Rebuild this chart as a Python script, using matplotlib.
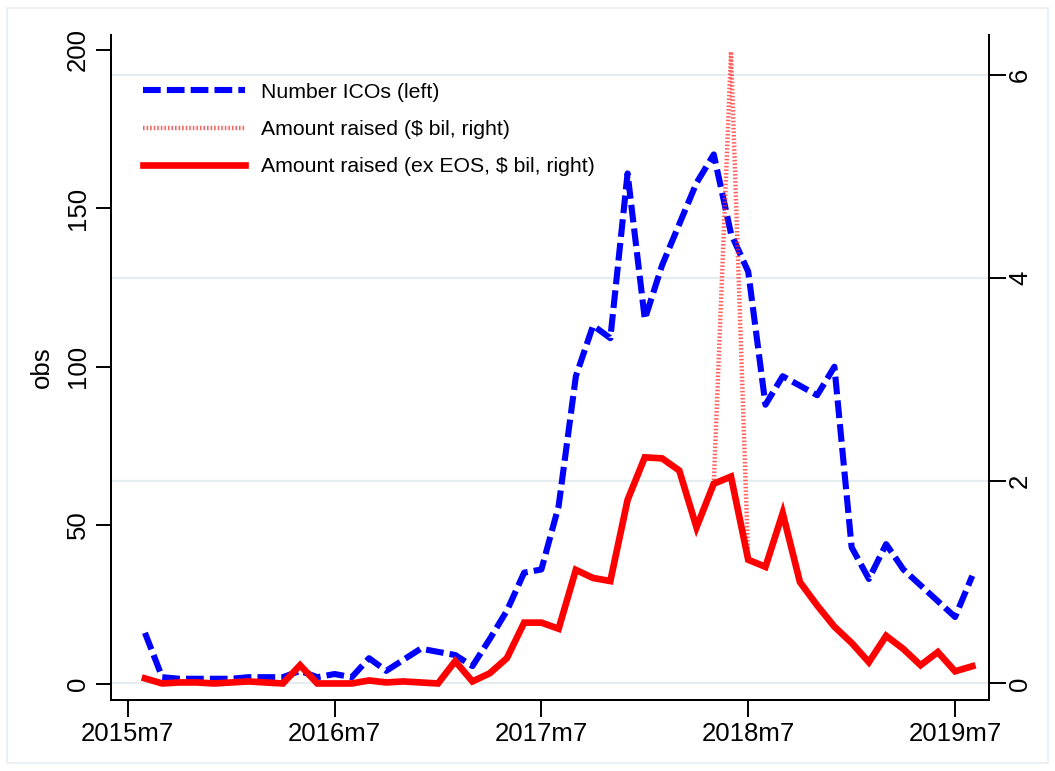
import numpy as np
import matplotlib
matplotlib.use('Agg')
import matplotlib.pyplot as plt
from matplotlib.lines import Line2D
from matplotlib.patches import Rectangle
from matplotlib.transforms import blended_transform_factory

plt.rcParams['font.family'] = ['Liberation Sans', 'DejaVu Sans']

# months since 2015m7 (1 = 2015m8 ... 49 = 2019m8)
months = np.arange(1, 50)
tick_pos = [0, 12, 24, 36, 48]
tick_lab = ['2015m7', '2016m7', '2017m7', '2018m7', '2019m7']

num_icos = [16, 2, 1.5, 1.5, 1.5, 1.5, 2, 2, 2, 4,
            2, 3, 2, 8, 4, 7.5, 11, 10, 9, 5.5,
            14, 23, 35, 36, 56, 97, 113, 109, 161, 115,
            132, 145, 158, 167, 142, 130, 88, 97, 94, 91,
            100, 43, 33, 44, 36, 31, 26, 21, 34]

amount_total = [0.05, 0.0, 0.01, 0.01, 0.0, 0.01, 0.02, 0.01, 0.0, 0.18,
                0.0, 0.0, 0.0, 0.03, 0.01, 0.02, 0.01, 0.0, 0.22, 0.02,
                0.10, 0.25, 0.60, 0.60, 0.54, 1.12, 1.04, 1.01, 1.81, 2.23,
                2.22, 2.10, 1.54, 1.97, 6.23, 1.22, 1.15, 1.68, 1.00, 0.77,
                0.56, 0.40, 0.21, 0.47, 0.34, 0.18, 0.31, 0.12, 0.17]

amount_ex_eos = [0.05, 0.0, 0.01, 0.01, 0.0, 0.01, 0.02, 0.01, 0.0, 0.18,
                 0.0, 0.0, 0.0, 0.03, 0.01, 0.02, 0.01, 0.0, 0.22, 0.02,
                 0.10, 0.25, 0.60, 0.60, 0.54, 1.12, 1.04, 1.01, 1.81, 2.23,
                 2.22, 2.10, 1.54, 1.97, 2.04, 1.22, 1.15, 1.68, 1.00, 0.77,
                 0.56, 0.40, 0.21, 0.47, 0.34, 0.18, 0.31, 0.12, 0.17]

right_ticks = [0, 2, 4, 6]
left_ticks = [0, 50, 100, 150, 200]

fig = plt.figure(figsize=(10.55, 7.71), dpi=100)
ax = fig.add_axes([111 / 1055, 1 - 700 / 771, 877.5 / 1055, 665 / 771])
ax2 = ax.twinx()

# light outer frame like the stata graph region
fig.patches.append(Rectangle((7 / 1055, 8 / 771), 1041 / 1055, 755 / 771,
                             transform=fig.transFigure, fill=False,
                             ec='#e8eef2', lw=1.2))

ax.set_xlim(-0.97, 49.94)
ax.set_ylim(-5.2, 204.7)
ax2.set_ylim(-0.163, 6.395)

# gridlines at right-axis ticks, drawn under the blue line
tr = blended_transform_factory(ax.transAxes, ax2.transData)
for v in right_ticks:
    ax.add_line(Line2D([0, 1], [v, v], transform=tr, color='#e6edf1',
                       lw=1.6, zorder=0))

l1, = ax.plot(months, num_icos, color='#0000ff', lw=4.4,
              dashes=(2.9, 1.0), label='Number ICOs (left)')
l2, = ax2.plot(months, amount_total, color='#ff2a2a', lw=3.2, alpha=0.75,
               dashes=(0.35, 0.45), label='Amount raised ($ bil, right)')
l3, = ax2.plot(months, amount_ex_eos, color='#ff0000', lw=4.8,
               solid_joinstyle='miter',
               label='Amount raised (ex EOS, $ bil, right)')

ax.set_xticks(tick_pos)
ax.set_xticklabels(tick_lab)
ax.set_yticks(left_ticks)
ax2.set_yticks(right_ticks)
ax.set_ylabel('obs', fontsize=18.5, labelpad=9)

ax.tick_params(axis='x', labelsize=18.5, length=12, width=1.4, pad=4)
ax.tick_params(axis='y', labelsize=18.5, length=11, width=1.4, pad=4,
               labelrotation=90)
ax2.tick_params(axis='y', labelsize=18.5, length=12, width=1.4, pad=2,
                labelrotation=90)
for lab in ax.get_yticklabels():
    lab.set_va('center')
for lab in ax2.get_yticklabels():
    lab.set_va('center')

for a in (ax, ax2):
    a.spines['top'].set_visible(False)
    for s in ('left', 'right', 'bottom'):
        a.spines[s].set_linewidth(1.4)

ax2.legend(handles=[l1, l2, l3], loc='upper left',
           bbox_to_anchor=(0.0365, 0.928), frameon=False, fontsize=15.3,
           handlelength=4.8, handletextpad=0.75, labelspacing=0.86,
           borderpad=0, borderaxespad=0)

fig.savefig('out.png', dpi=100)
